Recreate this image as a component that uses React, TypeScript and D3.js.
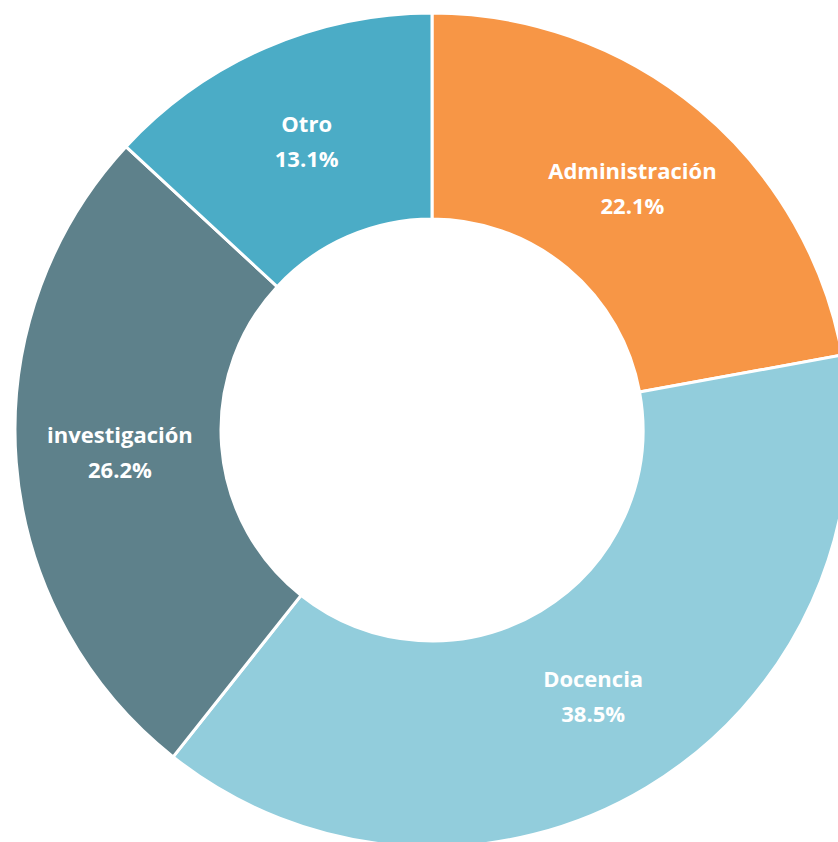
import React from "react";
import * as d3 from "d3";

const categories = ["Administración", "Docencia", "investigación", "Otro"];
const values = [22.1, 38.5, 26.2, 13.1];
const colors = ["#F79646", "#92CDDC", "#5E818B", "#4BACC6"];

const W = 838;
const H = 842;
const cx = 432;
const cy = 430;
const outerR = 417;
const innerR = 211;

export default function App() {
  const data = categories.map((c, i) => ({ name: c, value: values[i], color: colors[i] }));
  const pie = d3
    .pie<any>()
    .value((d) => d.value)
    .sort(null)
    .startAngle(0)
    .endAngle(2 * Math.PI);
  const arcs = pie(data);
  const arc = d3.arc<any>().innerRadius(innerR).outerRadius(outerR);
  const labelArc = d3.arc<any>().innerRadius(313).outerRadius(313);

  return (
    <svg
      width={W}
      height={H}
      style={{ position: "absolute", left: 0, top: 0, background: "#fff" }}
    >
      <g transform={`translate(${cx},${cy})`}>
        {arcs.map((a, i) => (
          <path key={i} d={arc(a) || ""} fill={a.data.color} stroke="#fff" strokeWidth={3} />
        ))}
        {arcs.map((a, i) => {
          const [x, y] = labelArc.centroid(a);
          return (
            <text
              key={"t" + i}
              x={x}
              y={y}
              textAnchor="middle"
              fill="#fff"
              fontFamily="'Open Sans', Lato, sans-serif"
              fontWeight="bold"
              fontSize={22}
            >
              <tspan x={x} dy={-11}>{a.data.name}</tspan>
              <tspan x={x} dy={35}>{a.data.value.toFixed(1) + "%"}</tspan>
            </text>
          );
        })}
      </g>
    </svg>
  );
}
